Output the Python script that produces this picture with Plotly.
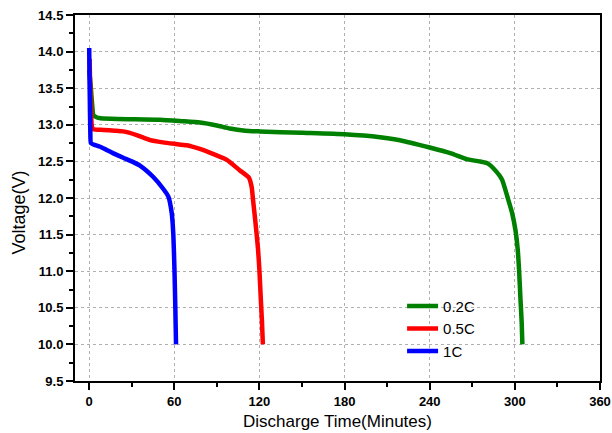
import plotly.graph_objects as go

# 0.2C discharge
t_02 = [0, 1.0, 2.0, 3.0, 5.5, 8, 20, 50, 65, 78, 90, 99, 110, 120, 150, 180, 205, 219, 240, 255, 266, 275, 281, 287, 291, 295, 298, 300.5, 302, 303, 304, 304.8, 305.3]
v_02 = [13.75, 13.55, 13.3, 13.13, 13.1, 13.09, 13.08, 13.07, 13.05, 13.03, 12.99, 12.95, 12.92, 12.91, 12.89, 12.87, 12.83, 12.79, 12.69, 12.61, 12.53, 12.5, 12.47, 12.36, 12.25, 12.0, 11.8, 11.55, 11.3, 11.0, 10.6, 10.3, 10.0]

# 0.5C discharge
t_05 = [0.3, 1.0, 2.0, 3.0, 10, 18, 24, 33.5, 43, 52, 60, 68.7, 78, 85, 97, 106, 112.5, 114.5, 115.5, 117, 119, 120, 121, 121.8, 122.4]
v_05 = [13.9, 13.3, 12.97, 12.94, 12.93, 12.92, 12.91, 12.86, 12.79, 12.76, 12.74, 12.72, 12.67, 12.62, 12.52, 12.38, 12.28, 12.15, 11.97, 11.7, 11.3, 11.0, 10.6, 10.3, 10.0]

# 1C discharge
t_1 = [0, 0.4, 0.8, 1.2, 3, 7.7, 12, 17, 24, 30, 36, 45, 52, 55.8, 58.2, 59.3, 60.1, 60.7, 61.2]
v_1 = [14.05, 13.4, 12.9, 12.75, 12.73, 12.70, 12.66, 12.61, 12.55, 12.50, 12.44, 12.29, 12.13, 12.02, 11.79, 11.5, 11.02, 10.5, 10.0]

fig = go.Figure()
fig.add_trace(go.Scatter(x=t_02, y=v_02, mode="lines", name="0.2C",
                         line=dict(color="#008000", width=4.5, shape="spline", smoothing=0.5)))
fig.add_trace(go.Scatter(x=t_05, y=v_05, mode="lines", name="0.5C",
                         line=dict(color="#ff0000", width=4.5, shape="spline", smoothing=0.5)))
fig.add_trace(go.Scatter(x=t_1, y=v_1, mode="lines", name="1C",
                         line=dict(color="#0000ff", width=4.5, shape="spline", smoothing=0.5)))

axis_common = dict(
    showline=True, linecolor="black", linewidth=2, mirror=True,
    ticks="outside", ticklen=7, tickwidth=1.5, tickcolor="black",
    showgrid=True, gridcolor="#b0b0b0", griddash="dot", gridwidth=1,
    zeroline=False, automargin=False,
    tickfont=dict(family="Liberation Sans, Arial", size=13, color="black", weight="bold"),
)

fig.update_xaxes(
    range=[-10, 360], dtick=60, tick0=0,
    minor=dict(dtick=30, ticklen=4, tickcolor="black", ticks="outside", showgrid=False),
    title=dict(text="Discharge Time(Minutes)", font=dict(family="Liberation Sans, Arial", size=17, color="black"), standoff=8),
    **axis_common,
)
fig.update_yaxes(
    range=[9.5, 14.5], dtick=0.5, tick0=9.5, tickformat=".1f",
    minor=dict(dtick=0.25, ticklen=4, tickcolor="black", ticks="outside", showgrid=False),
    **axis_common,
)

fig.add_annotation(
    text="Voltage(V)", textangle=-90, showarrow=False,
    xref="paper", yref="paper", x=-0.107, y=0.46, xanchor="center", yanchor="middle",
    font=dict(family="Liberation Sans, Arial", size=18, color="black"),
)

fig.update_layout(
    width=612, height=433,
    margin=dict(l=75, r=12, t=15, b=52),
    plot_bgcolor="white", paper_bgcolor="white",
    showlegend=True,
    legend=dict(x=0.623, y=0.249, xanchor="left", yanchor="top",
                bgcolor="rgba(0,0,0,0)", borderwidth=0,
                font=dict(family="Liberation Sans, Arial", size=15, color="black"),
                tracegroupgap=0, itemwidth=31),
)

fig.write_html("out.html", post_script="document.body.style.margin='0';",
               config={"displayModeBar": False})
